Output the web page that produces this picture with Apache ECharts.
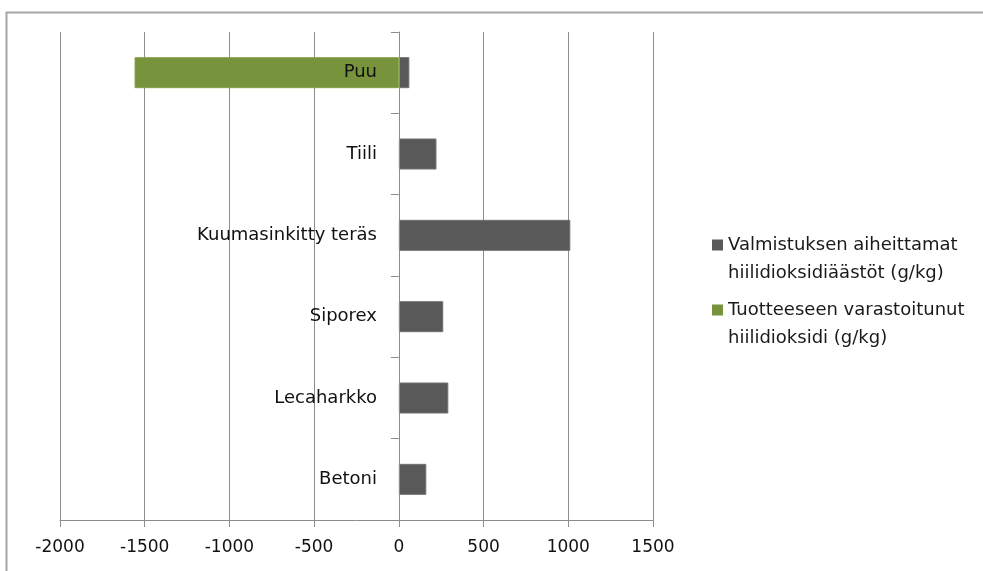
<!DOCTYPE html>
<html>
<head>
<meta charset="utf-8">
<script src="https://cdn.jsdelivr.net/npm/echarts@6/dist/echarts.min.js"></script>
<style>html,body{margin:0;padding:0;background:#fff;}#c{width:983px;height:571px;}</style>
</head>
<body>
<div id="c"></div>
<script>
const categories = ['Puu', 'Tiili', 'Kuumasinkitty teräs', 'Siporex', 'Lecaharkko', 'Betoni'];
const seriesNames = ['Valmistuksen aiheittamat\nhiilidioksidiäästöt (g/kg)', 'Tuotteeseen varastoitunut\nhiilidioksidi (g/kg)'];
const manufacturing = [62, 222, 1012, 262, 292, 162];
const stored = [-1560, null, null, null, null, null];
const xTicks = { min: -2000, max: 1500, interval: 500 };

const font = 'DejaVu Sans';
const gridLeft = 60;
const labelRight = 377;
const chart = echarts.init(document.getElementById('c'));
chart.setOption({
  animation: false,
  textStyle: { fontFamily: font },
  graphic: [{
    type: 'rect', left: 4, top: 10, z: -10,
    shape: { width: 1000, height: 600 },
    style: { fill: 'none', stroke: '#a6a6a6', lineWidth: 2 }
  }],
  grid: { left: gridLeft, right: 330, top: 32, bottom: 51, containLabel: false, outerBoundsMode: 'none' },
  legend: {
    orient: 'vertical', left: 712, top: 203, itemGap: -19, padding: 0,
    icon: 'rect', itemWidth: 11, itemHeight: 11,
    itemStyle: { borderWidth: 0 },
    formatter: name => '\n' + name,
    textStyle: { fontFamily: font, fontSize: 18, color: '#1a1a1a', lineHeight: 28 },
    data: seriesNames
  },
  xAxis: {
    type: 'value', min: xTicks.min, max: xTicks.max, interval: xTicks.interval,
    axisLine: { show: true, lineStyle: { color: '#8c8c8c', width: 1 } },
    axisTick: { show: true, length: 7, lineStyle: { color: '#8c8c8c' } },
    splitLine: { show: true, lineStyle: { color: '#8c8c8c', width: 1 } },
    axisLabel: { fontFamily: font, fontSize: 17, color: '#111', margin: 19, formatter: v => String(v) }
  },
  yAxis: {
    type: 'category', data: categories, inverse: true, z: 10,
    axisLine: { show: true, onZero: true, lineStyle: { color: '#8c8c8c', width: 1 } },
    axisTick: { show: true, length: 8, lineStyle: { color: '#8c8c8c' } },
    axisLabel: { fontFamily: font, fontSize: 18, color: '#111', margin: gridLeft - labelRight }
  },
  series: [
    {
      name: seriesNames[0], type: 'bar', stack: 's', data: manufacturing, barWidth: 31,
      itemStyle: { color: '#595959', borderColor: '#707070', borderWidth: 1 }
    },
    {
      name: seriesNames[1], type: 'bar', stack: 's', data: stored, barWidth: 31,
      itemStyle: { color: '#77933C', borderColor: '#86a048', borderWidth: 1 }
    }
  ]
});
</script>
</body>
</html>
